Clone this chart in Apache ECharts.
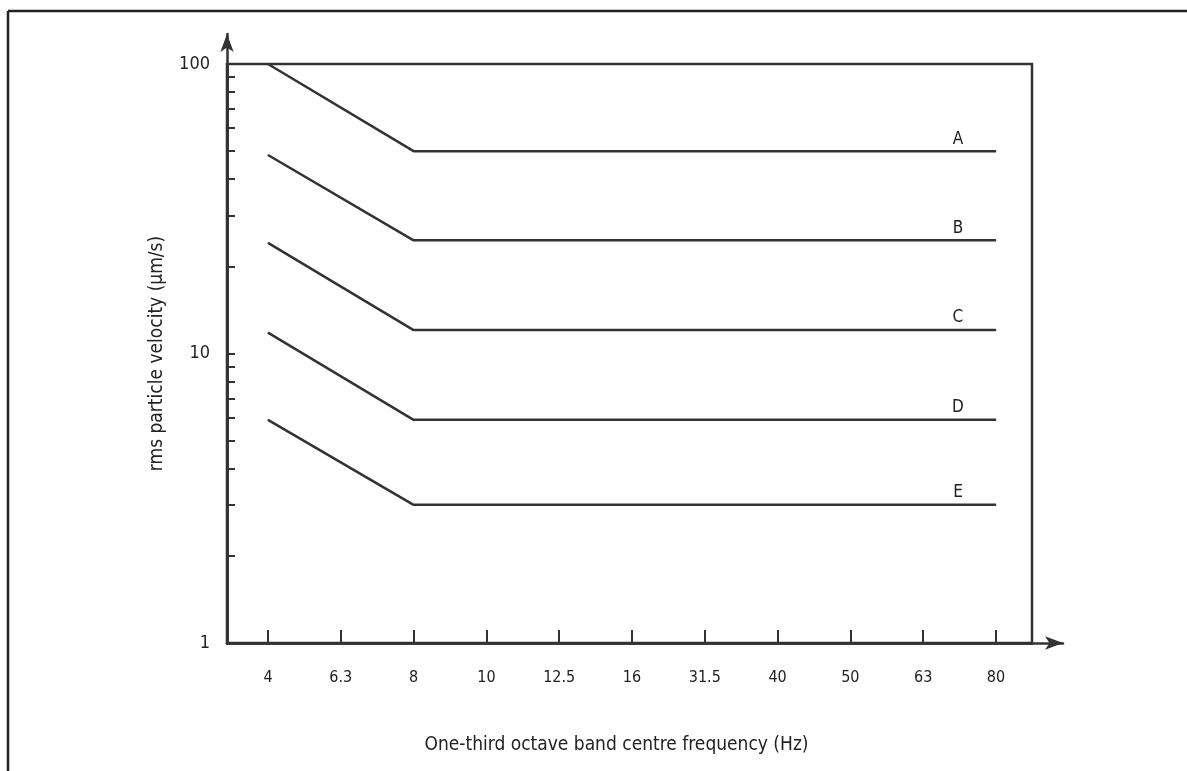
<!DOCTYPE html>
<html>
<head>
<meta charset="utf-8">
<script src="https://cdn.jsdelivr.net/npm/echarts@6/dist/echarts.min.js"></script>
<style>
html,body{margin:0;padding:0;background:#fff;}
#chart{width:1187px;height:771px;}
</style>
</head>
<body>
<div id="chart"></div>
<script>
// Tick labels on the frequency axis (one-third octave band centres, Hz)
const freqLabels = ['4', '6.3', '8', '10', '12.5', '16', '31.5', '40', '50', '63', '80'];
// Break points of every curve
const knotFreqs = ['4', '8', '80'];
const curveNames = ['A', 'B', 'C', 'D', 'E'];
const curveA = [100, 50, 50];
const curveB = [48.5, 24.6, 24.6];
const curveC = [24.1, 12.05, 12.05];
const curveD = [11.8, 5.9, 5.9];
const curveE = [5.9, 3.0, 3.0];
const curveValues = [curveA, curveB, curveC, curveD, curveE];
// Velocity axis
const yLabelValues = [1, 10, 100];
const yTickValues = [1, 2, 3, 4, 5, 6, 7, 8, 9, 10, 20, 30, 40, 50, 60, 70, 80, 90, 100];
const xTickValues = freqLabels.map((f, i) => i);

const FONT = "'Liberation Sans Narrow', 'DejaVu Sans Condensed', 'Roboto', sans-serif";
const INK = '#333333';
const TXT = '#222222';

const chart = echarts.init(document.getElementById('chart'), null, {renderer: 'canvas'});

const series = curveNames.map((name, ci) => ({
  name: name,
  type: 'line',
  xAxisIndex: 0,
  yAxisIndex: 0,
  symbol: 'circle',
  symbolSize: 1,
  showSymbol: true,
  silent: true,
  animation: false,
  itemStyle: {color: INK},
  lineStyle: {color: INK, width: 2.5},
  label: {show: false},
  data: knotFreqs.map((f, i) => {
    const item = {value: [freqLabels.indexOf(f), curveValues[ci][i]]};
    if (i === knotFreqs.length - 1) {
      item.label = {
        show: true, position: 'top', distance: 3, offset: [-38, 0],
        formatter: name, color: TXT, fontFamily: FONT, fontSize: 17
      };
    }
    return item;
  })
}));

chart.setOption({
  animation: false,
  backgroundColor: '#fff',
  grid: [
    {left: 227, top: 64, width: 805, height: 579, show: true, borderColor: INK, borderWidth: 2.5, backgroundColor: 'transparent'},
    {left: 227, top: 34, width: 836, height: 609, show: false}
  ],
  xAxis: [
    {
      type: 'value', gridIndex: 0, min: -0.563, max: 10.495,
      axisLine: {show: true, onZero: false, lineStyle: {color: INK, width: 2.5}},
      axisTick: {show: true, inside: true, length: 13, customValues: xTickValues, lineStyle: {color: INK, width: 2}},
      axisLabel: {show: true, customValues: xTickValues, margin: 27, color: TXT, fontFamily: FONT, fontSize: 16,
        formatter: v => freqLabels[Math.round(v)]},
      splitLine: {show: false},
      name: 'One-third octave band centre frequency (Hz)',
      nameLocation: 'middle', nameGap: 93,
      nameTextStyle: {color: TXT, fontFamily: FONT, fontSize: 19, padding: [0, 26, 0, 0]}
    },
    {
      type: 'value', gridIndex: 1, min: 0, max: 1,
      axisLine: {show: true, onZero: false, symbol: ['none', 'arrow'], symbolSize: [10, 18], lineStyle: {color: INK, width: 2.5}},
      axisTick: {show: false}, axisLabel: {show: false}, splitLine: {show: false}
    }
  ],
  yAxis: [
    {
      type: 'log', gridIndex: 0, logBase: 10, min: 1, max: 100,
      axisLine: {show: true, onZero: false, lineStyle: {color: INK, width: 2.5}},
      axisTick: {show: true, inside: true, length: 8, customValues: yTickValues, lineStyle: {color: INK, width: 2}},
      minorTick: {show: false},
      axisLabel: {show: true, customValues: yLabelValues, margin: 17, color: TXT, fontFamily: FONT, fontSize: 18,
        padding: [0, 0, 9, 0]},
      splitLine: {show: false},
      name: 'rms particle velocity (\u00b5m/s)',
      nameLocation: 'middle', nameGap: 60,
      nameTextStyle: {color: TXT, fontFamily: FONT, fontSize: 19}
    },
    {
      type: 'value', gridIndex: 1, min: 0, max: 1,
      axisLine: {show: true, onZero: false, symbol: ['none', 'arrow'], symbolSize: [10, 18], lineStyle: {color: INK, width: 2.5}},
      axisTick: {show: false}, axisLabel: {show: false}, splitLine: {show: false}
    }
  ],
  graphic: [
    {type: 'line', shape: {x1: 8, y1: 11, x2: 1187, y2: 11}, style: {stroke: '#222', lineWidth: 2.5}, silent: true},
    {type: 'line', shape: {x1: 8, y1: 11, x2: 8, y2: 771}, style: {stroke: '#222', lineWidth: 2.5}, silent: true}
  ],
  series: series
});
</script>
</body>
</html>
